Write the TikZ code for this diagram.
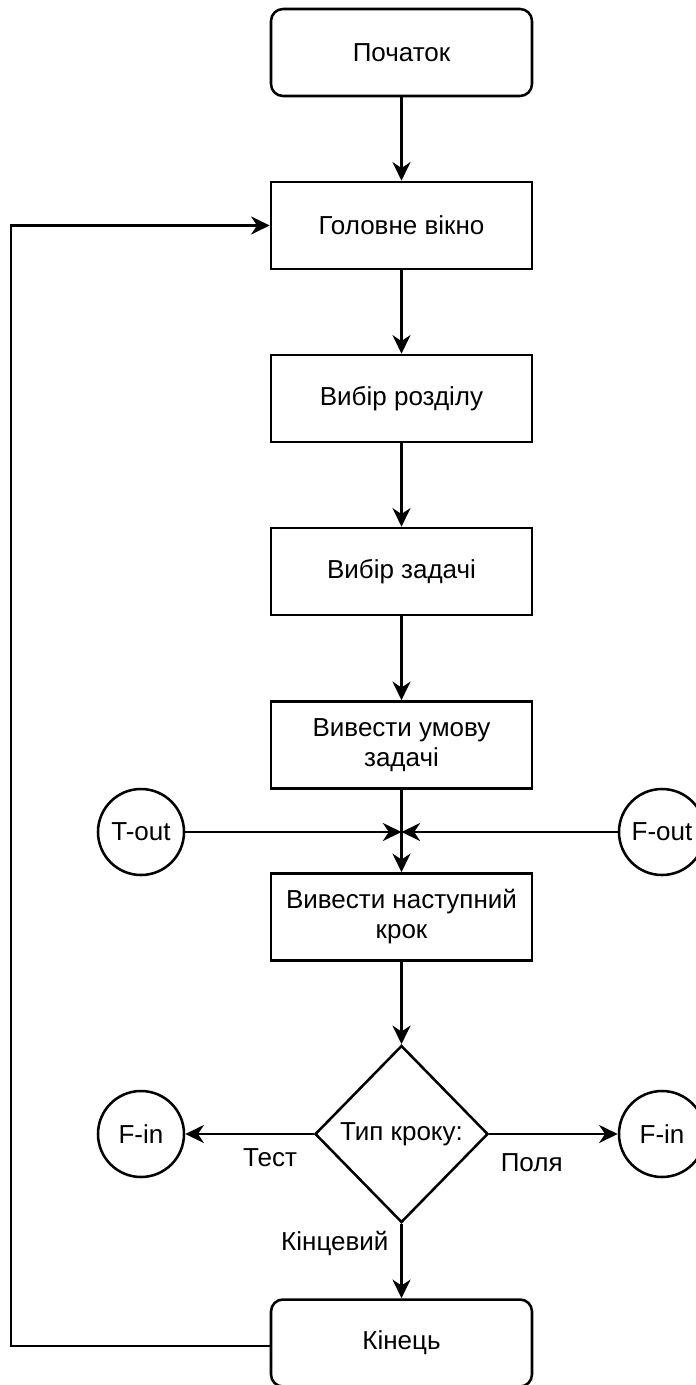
\documentclass[tikz,border=0pt]{standalone}
\usepackage{fontspec}
\setmainfont{Liberation Sans}
\usetikzlibrary{arrows.meta,shapes.geometric}
\begin{document}
\begin{tikzpicture}[x=0.75pt,y=-0.75pt,
  font=\fontsize{19.5}{22.5}\selectfont,
  box/.style={draw, line width=1.9pt, minimum width=195.75pt, minimum height=65.25pt, align=center, inner sep=0pt},
  term/.style={box, rounded corners=9pt},
  circ/.style={draw, circle, line width=1.9pt, minimum size=64.5pt, inner sep=0pt},
  decbox/.style={draw, diamond, line width=1.9pt, minimum width=129.75pt, minimum height=132.75pt, inner sep=0pt},
  arr/.style={line width=1.9pt, -{Stealth[length=14pt, width=13.5pt, inset=4.5pt]}}]
  \useasboundingbox (0,0) rectangle (696,1385);
  \node[term] (start) at (401.5,52.5) {Початок};
  \node[box] (main) at (401.5,225.5) {Головне вікно};
  \node[box] (sect) at (401.5,398.5) {Вибір розділу};
  \node[box] (task) at (401.5,571.5) {Вибір задачі};
  \node[box] (cond) at (401.5,745) {Вивести умову\\задачі};
  \node[box] (next) at (401.5,917) {Вивести наступний\\крок};
  \node[decbox] (type) at (401.5,1134) {Тип кроку:};
  \node[term] (end) at (401.5,1343) {Кінець};
  \node[circ] (tout) at (141,832) {T-out};
  \node[circ] (fout) at (662,832) {F-out};
  \node[circ] (finl) at (141,1134) {F-in};
  \node[circ] (finr) at (662,1134) {F-in};
  \coordinate (jn) at (401.5,832);
  \coordinate (lp) at (11,1346);
  \draw[arr] (start) -- (main);
  \draw[arr] (main) -- (sect);
  \draw[arr] (sect) -- (task);
  \draw[arr] (task) -- (cond);
  \draw[arr] (cond) -- (next);
  \draw[arr] (tout) -- (jn);
  \draw[arr] (fout) -- (jn);
  \draw[arr] (next) -- (type);
  \draw[arr] (type) -- node[pos=.34, yshift=-18pt] {Тест} (finl);
  \draw[arr] (type) -- node[pos=.33, yshift=-21.75pt] {Поля} (finr);
  \draw[arr] (type) -- node[pos=.26, xshift=-50pt] {Кінцевий} (end);
  \draw[arr] (end.west |- lp) -- (lp) |- (main.west);
\end{tikzpicture}
\end{document}
